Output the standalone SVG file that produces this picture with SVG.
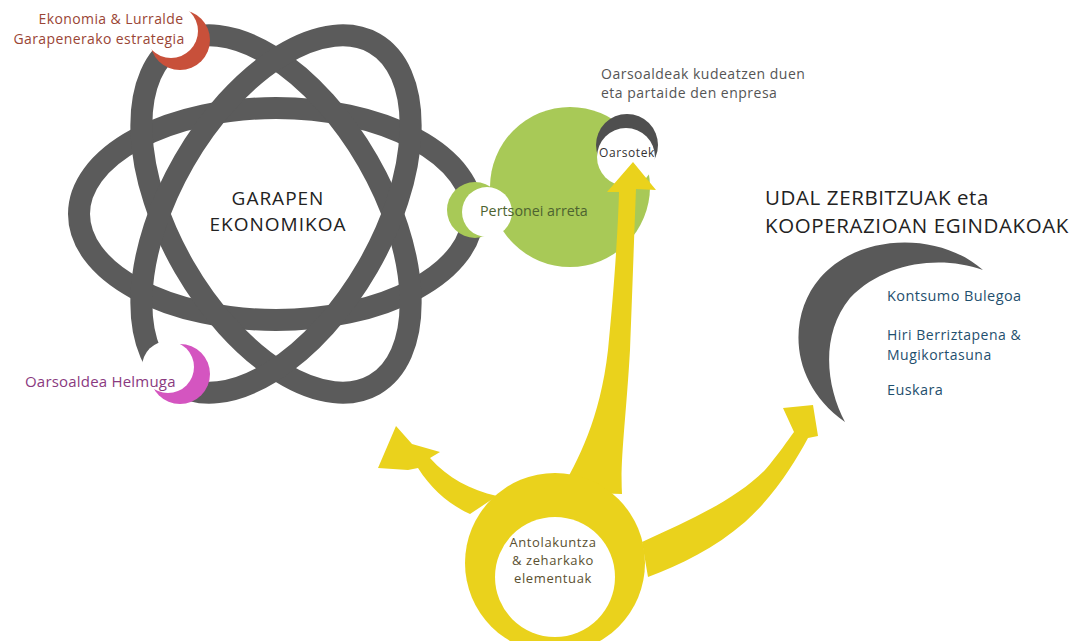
<svg xmlns="http://www.w3.org/2000/svg" width="1073" height="641" viewBox="0 0 1073 641">
<style>
.t{font-family:"Open Sans","Noto Sans","Liberation Sans",sans-serif}
.orb{fill:none;stroke:#5b5b5b;stroke-width:22}
.yel{fill:#ead21c}
.wh{fill:#ffffff}
</style>
<rect width="1073" height="641" fill="#ffffff"/>
<g id="atom">
<ellipse class="orb" cx="276" cy="214" rx="197" ry="106"/>
<ellipse class="orb" cx="276" cy="214" rx="197" ry="106" transform="rotate(60 276 214)"/>
<ellipse class="orb" cx="276" cy="214" rx="197" ry="106" transform="rotate(-60 276 214)"/>
<text class="t" x="278" y="205" font-size="19" letter-spacing="1" fill="#222" text-anchor="middle">GARAPEN</text>
<text class="t" x="278" y="231" font-size="19" letter-spacing="1" fill="#222" text-anchor="middle">EKONOMIKOA</text>
</g>
<g id="ekonomia">
<circle cx="180" cy="40" r="30" fill="#c8503a"/>
<circle cx="171" cy="31" r="27" class="wh"/>
<text class="t" x="111" y="24" font-size="14" letter-spacing="0.4" fill="#9a4535" text-anchor="middle">Ekonomia &amp; Lurralde</text>
<text class="t" x="99" y="44" font-size="14" letter-spacing="0.4" fill="#9a4535" text-anchor="middle">Garapenerako estrategia</text>
</g>
<g id="helmuga">
<circle cx="180" cy="374" r="30" fill="#d455c0"/>
<circle cx="168" cy="367" r="26" class="wh"/>
<text class="t" x="25" y="387" font-size="15" letter-spacing="0.2" fill="#8a3a80">Oarsoaldea Helmuga</text>
</g>
<g id="green">
<circle cx="570" cy="187" r="80" fill="#a8c957"/>
<circle cx="475" cy="210" r="28" fill="#a8c957"/>
<circle cx="487" cy="212" r="25" class="wh"/>
<text class="t" x="480" y="216" font-size="14.3" fill="#4d6330">Pertsonei arreta</text>
</g>
<g id="oarsotek">
<circle cx="627" cy="145" r="31" fill="#4f4f4f"/>
<circle cx="626" cy="157" r="29" class="wh"/>
<text class="t" x="627" y="157" font-size="12" fill="#333" text-anchor="middle" letter-spacing="0.6">Oarsotek</text>
<text class="t" x="601" y="79" font-size="14" letter-spacing="0.5" fill="#555">Oarsoaldeak kudeatzen duen</text>
<text class="t" x="601" y="98" font-size="14" letter-spacing="0.5" fill="#555">eta partaide den enpresa</text>
</g>
<g id="udal">
<text class="t" x="765" y="205" font-size="20.5" letter-spacing="0.6" fill="#222">UDAL ZERBITZUAK eta</text>
<text class="t" x="765" y="233" font-size="20.5" letter-spacing="0.6" fill="#222">KOOPERAZIOAN EGINDAKOAK</text>
<path d="M983 270 C940 232 860 232 820 278 C788 315 788 382 845 422 C826 386 820 335 850 298 C885 262 940 255 983 270 Z" fill="#595959"/>
<text class="t" x="887" y="301" font-size="14.5" letter-spacing="0.4" fill="#1f4f6e">Kontsumo Bulegoa</text>
<text class="t" x="887" y="340" font-size="14" letter-spacing="0.5" fill="#1f4f6e">Hiri Berriztapena &amp;</text>
<text class="t" x="887" y="359.5" font-size="14" letter-spacing="0.5" fill="#1f4f6e">Mugikortasuna</text>
<text class="t" x="887" y="395" font-size="14.5" letter-spacing="0.4" fill="#1f4f6e">Euskara</text>
</g>
<g id="connectors">
<path class="yel" d="M560 492 C578 460 600 420 608 350 C614 290 618 230 619 192 L607 192 L633 162 L656 190 L636 189 C634 240 632 300 630 350 C626 420 620 460 622 494 Z"/>
<path class="yel" d="M470 514 C450 505 432 490 418 468 L408 470 L378 468 L396 426 L412 444 L440 452 L430 458 C448 478 470 490 497 496 Z"/>
<path class="yel" d="M642 542 C690 520 735 500 765 470 C778 455 788 440 794 432 L783 408 L813 405 L818 436 L808 438 C795 462 775 495 745 522 C715 548 680 565 648 577 Z"/>
</g>
<g id="org">
<circle cx="555" cy="563" r="90" class="yel"/>
<circle cx="555" cy="577" r="60" class="wh"/>
<text class="t" x="553" y="547" font-size="13" letter-spacing="0.6" fill="#5a5030" text-anchor="middle">Antolakuntza</text>
<text class="t" x="553" y="565" font-size="13" letter-spacing="0.6" fill="#5a5030" text-anchor="middle">&amp; zeharkako</text>
<text class="t" x="553" y="583" font-size="13" letter-spacing="0.6" fill="#5a5030" text-anchor="middle">elementuak</text>
</g>
</svg>
